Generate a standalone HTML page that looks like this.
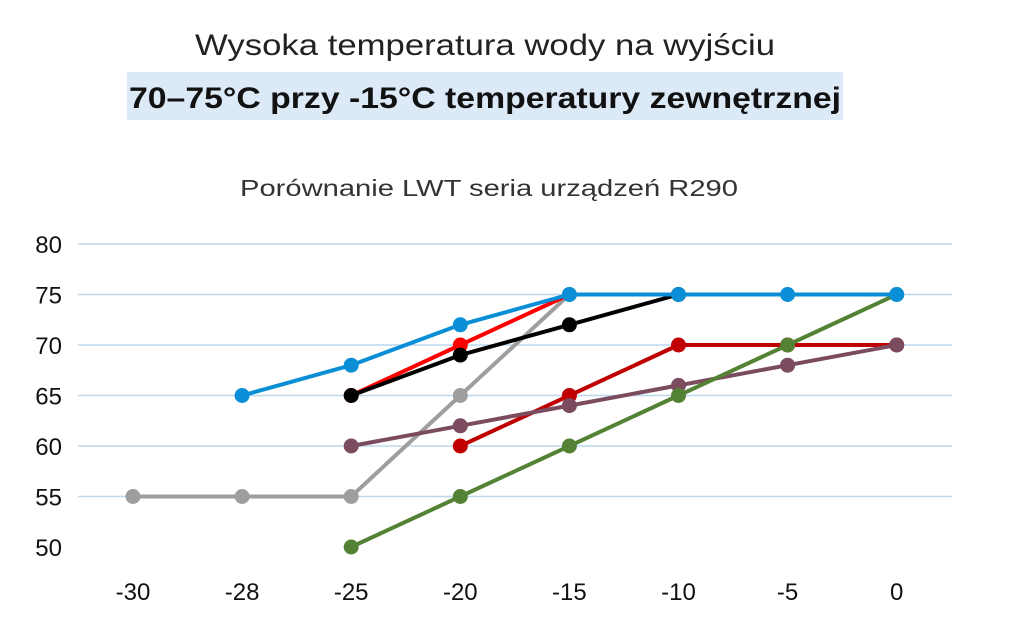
<!DOCTYPE html>
<html><head><meta charset="utf-8"><style>
body{margin:0;background:#fff;}
svg text{font-family:"Liberation Sans",sans-serif;}
</style></head><body>
<svg width="1024" height="632" viewBox="0 0 1024 632" id="c">
<text x="195" y="55" font-size="30" fill="#222" textLength="580" lengthAdjust="spacingAndGlyphs">Wysoka temperatura wody na wyjściu</text>
<rect x="127" y="72" width="716" height="48" fill="#dce9f7"/>
<text x="129" y="108" font-size="30" font-weight="bold" fill="#111" textLength="712" lengthAdjust="spacingAndGlyphs">70–75°C przy -15°C temperatury zewnętrznej</text>
<text x="240" y="196" font-size="23" fill="#333" textLength="498" lengthAdjust="spacingAndGlyphs">Porównanie LWT seria urządzeń R290</text>
<g id="grid"></g><g id="ylab"></g><g id="xlab"></g><g id="series"></g>
</svg>
<script>
const categories=["-30","-28","-25","-20","-15","-10","-5","0"];
const yTicks=[50,55,60,65,70,75,80];
const colors=["#9e9e9e","#c00000","#7b4b5f","#548235","#ff0000","#000000","#0a8fd6"];
const seriesNames=["gray","dark-red","mauve","green","red","black","blue"];
const gray=[55,55,55,65,75,null,null,null];
const darkRed=[null,null,null,60,65,70,70,70];
const mauve=[null,null,60,62,64,66,68,70];
const green=[null,null,50,55,60,65,70,75];
const red=[null,null,65,70,75,null,null,null];
const black=[null,null,65,69,72,75,null,null];
const blue=[null,65,68,72,75,75,75,75];
const allSeries=[gray,darkRed,mauve,green,red,black,blue];
const NS="http://www.w3.org/2000/svg";
const x=i=>133+i*109.1;
const y=v=>547-(v-50)*(303/30);
const G=document.getElementById('grid'),YL=document.getElementById('ylab'),XL=document.getElementById('xlab'),S=document.getElementById('series');
function mk(t,a,p){const e=document.createElementNS(NS,t);for(const k in a)e.setAttribute(k,a[k]);p.appendChild(e);return e;}
yTicks.forEach(v=>{
 if(v>50){const l=mk('line',{x1:78,x2:952,y1:y(v),y2:y(v),stroke:'#bcd7ee','stroke-width':1.5},G);
 
 }
 const t=mk('text',{x:62,y:y(v)+9,'text-anchor':'end','font-size':24,fill:'#111'},YL);t.textContent=v;
 
 
});
categories.forEach((c,i)=>{
 const t=mk('text',{x:x(i),y:600,'text-anchor':'middle','font-size':24,fill:'#111'},XL);t.textContent=c;
 
 
});
allSeries.forEach((d,s)=>{
 const g=mk('g',{},S);
 
 
 let pts=[];d.forEach((v,i)=>{if(v!=null)pts.push(x(i)+','+y(v));});
 mk('polyline',{points:pts.join(' '),fill:'none',stroke:colors[s],'stroke-width':4,'stroke-linejoin':'round'},g);
 d.forEach((v,i)=>{if(v==null)return;
  if(seriesNames[s]==='red'&&i===4)return;
  const c=mk('circle',{cx:x(i),cy:y(v),r:7.5,fill:colors[s]},g);
  
  
 });
});
</script>
</body></html>
